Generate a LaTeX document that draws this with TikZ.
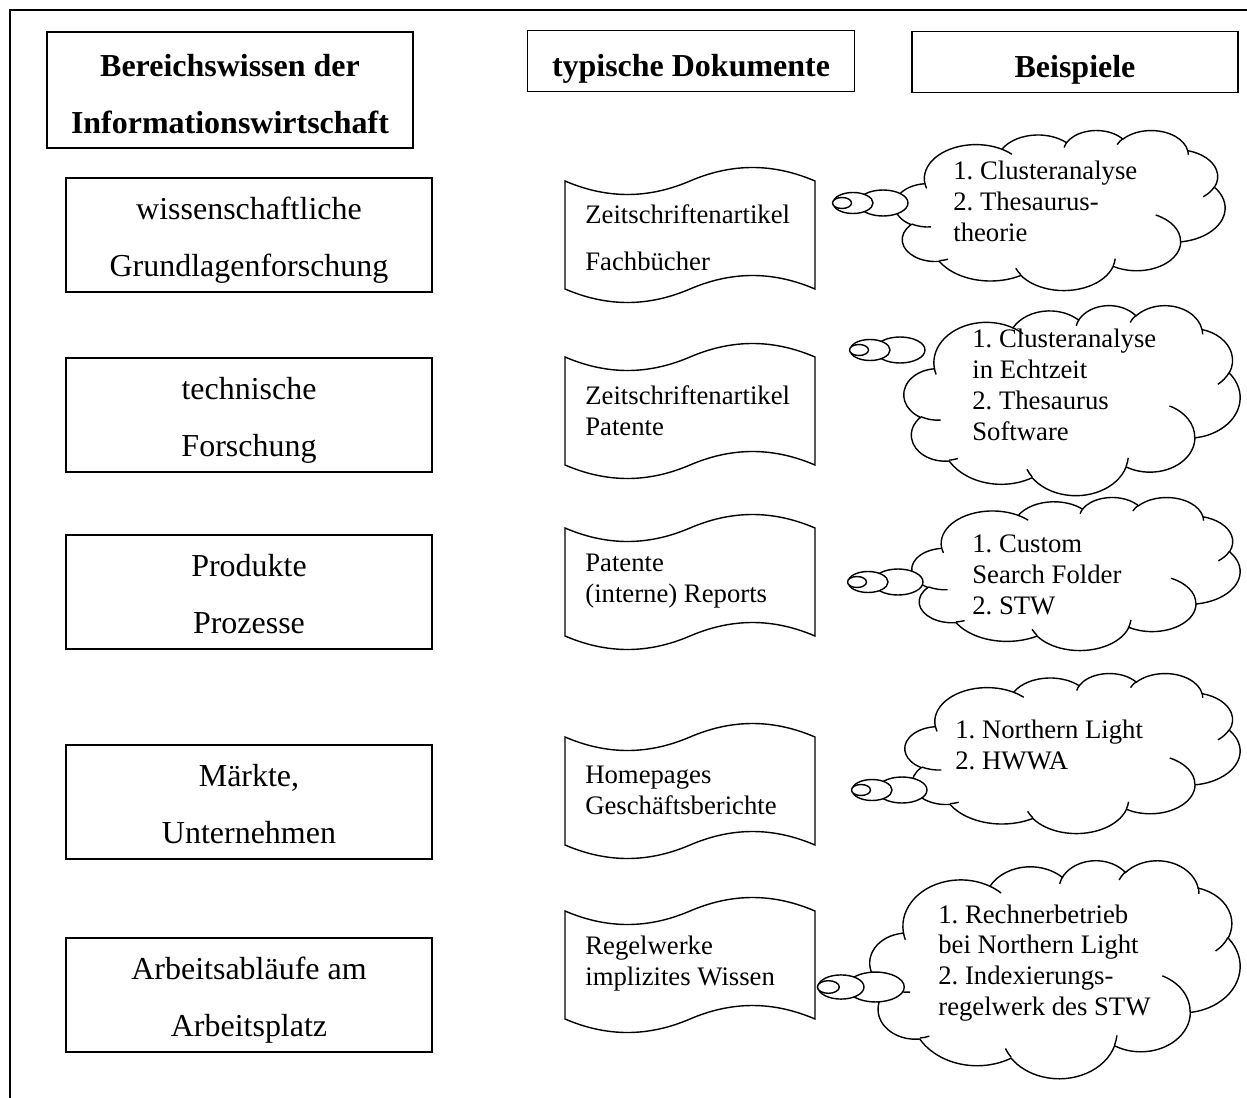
\documentclass[tikz,border=0pt]{standalone}
\usepackage{fontspec}
\setmainfont{Liberation Serif}
\frenchspacing

% Lochstreifen um den Mittelpunkt (#1,#2)
\newcommand{\band}[2]{%
  \draw[band] ({#1-125},{#2-54}) .. controls ({#1-83},{#2-36}) and ({#1-42},{#2-36}) .. ({#1},{#2-54})
    .. controls ({#1+42},{#2-72}) and ({#1+83},{#2-72}) .. ({#1+125},{#2-54})
    -- ({#1+125},{#2+54})
    .. controls ({#1+83},{#2+36}) and ({#1+42},{#2+36}) .. ({#1},{#2+54})
    .. controls ({#1-42},{#2+72}) and ({#1-83},{#2+72}) .. ({#1-125},{#2+54}) -- cycle;}

% Wolke in der Box links #1, oben #2, Breite #3, Hoehe #4
\newcommand{\wolke}[4]{%
  \draw[wolke] ({#1+0.090278*#3},{#2+0.332639*#4})
    \foreach \wa/\wb/\ws/\wd in {0.156319/0.212731/-190.4875/123.7805,
        0.123449/0.168218/-144.1024/89.9452, 0.101042/0.137616/-145.8079/99.7230,
        0.112431/0.152662/-130.9861/117.2417, 0.123449/0.168356/-78.7089/109.0269,
        0.156829/0.213426/-46.2673/130.2690, 0.133912/0.182106/0.6250/114.0333,
        0.156296/0.213310/22.4516/115.1726, 0.178704/0.244051/66.2426/75.7110,
        0.100926/0.136991/-274.9421/146.7356, 0.100579/0.137616/-246.8285/152.5189}
    {arc[x radius={\wa*#3*0.02cm}, y radius={\wb*#4*0.02cm},
         start angle={-atan2(\wa*sin(\ws),\wb*cos(\ws))},
         delta angle={-mod(atan2(\wa*sin(\ws+\wd),\wb*cos(\ws+\wd))-atan2(\wa*sin(\ws),\wb*cos(\ws))+720,360)}]}
    -- cycle;
  \foreach \wx/\wy/\wa/\wb/\ws/\wd in {0.108634/0.605949/0.100579/0.137616/86.7420/26.4295,
      0.160370/0.807847/0.100926/0.136991/73.6105/11.4475,
      0.381435/0.904861/0.156296/0.213310/137.6242/14.0811,
      0.667292/0.804421/0.156296/0.213310/6.4533/15.9984,
      0.790023/0.531343/0.133912/0.182106/-70.2924/70.9174,
      0.967546/0.355417/0.123449/0.168356/30.3180/27.7515,
      0.887130/0.125602/0.112431/0.152662/-13.7443/14.8589,
      0.673102/0.091481/0.112431/0.152662/-149.1815/18.1954,
      0.512523/0.109259/0.101042/0.137616/-163.4943/17.6864,
      0.324074/0.120185/0.156319/0.212731/-66.7070/12.3194,
      0.095532/0.365486/0.156319/0.212731/157.6544/11.8582}
    \draw[wolke linie] ({#1+\wx*#3},{#2+\wy*#4})
      arc[x radius={\wa*#3*0.02cm}, y radius={\wb*#4*0.02cm},
          start angle={-atan2(\wa*sin(\ws),\wb*cos(\ws))},
          delta angle={-mod(atan2(\wa*sin(\ws+\wd),\wb*cos(\ws+\wd))-atan2(\wa*sin(\ws),\wb*cos(\ws))+720,360)}];
}

% Denkblasen: Spitze bei (#1,#2), Groesse #3
\newcommand{\blasen}[3]{%
  \draw[wolke] ({#1+50*#3},#2) ellipse [x radius={25*#3}, y radius={13*#3}];
  \draw[wolke] ({#1+20*#3},#2) ellipse [x radius={20*#3}, y radius={10.5*#3}];
  \draw[wolke] ({#1+9*#3},#2) ellipse [x radius={9.5*#3}, y radius={5.5*#3}];}

\begin{document}
\begin{tikzpicture}[x=0.02cm, y=-0.02cm,
    kopf/.style={draw, line width=1pt, align=center, inner sep=0pt,
      font=\bfseries\fontsize{18.2}{32.4}\selectfont},
    bereich/.style={draw, line width=1pt, align=center, inner sep=0pt,
      minimum width=7.32cm, minimum height=2.28cm, font=\fontsize{18.2}{32.4}\selectfont,
      text height=51pt, text depth=4pt},
    doktext/.style={anchor=west, align=left, inner sep=0pt, font=\fontsize{15.2}{17.6}\selectfont},
    band/.style={draw, line width=0.8pt, fill=white},
    wolke/.style={draw, line width=0.8pt, fill=white},
    wolke linie/.style={draw, line width=0.8pt}]
	\useasboundingbox (0,0) rectangle (1247,1098);
	\draw[line width=1.3pt] (10,1110) -- (10,10) -- (1260,10);

	% Kopfzeile
	\node[kopf, minimum width=7.32cm, minimum height=2.32cm, text height=49pt, text depth=0pt]
	  (kopf1) at (230,90) {Bereichswissen der\\Informationswirtschaft};
	\node[kopf, minimum width=6.54cm, minimum height=1.22cm, text height=19.7pt, text depth=1.6pt] (kopf2) at (691,61) {typische Dokumente};
	\node[kopf, minimum width=6.52cm, minimum height=1.22cm, text height=19.7pt, text depth=1.6pt] (kopf3) at (1075,62) {Beispiele};

	% Bereiche
	\node[bereich] (wiss) at (249,235) {wissenschaftliche\\Grundlagenforschung};
	\node[bereich] (tech) at (249,415) {technische\\Forschung};
	\node[bereich] (prod) at (249,592) {Produkte\\Prozesse};
	\node[bereich] (markt) at (249,802) {Märkte,\\Unternehmen};
	\node[bereich] (arbeit) at (249,995) {Arbeitsabläufe am\\Arbeitsplatz};

	% Dokumente
	\band{690}{235}
	\node[doktext, font=\fontsize{15.2}{26.7}\selectfont] (dok1) at (585,238) {Zeitschriftenartikel\\Fachbücher};
	\band{690}{411}
	\node[doktext] (dok2) at (585,411) {Zeitschriftenartikel\\Patente};
	\band{690}{582}
	\node[doktext] (dok3) at (585,581) {Patente\\(interne) Reports};
	\band{690}{791}
	\node[doktext] (dok4) at (585,790) {Homepages\\Geschäftsberichte};
	\band{690}{965}
	\node[doktext] (dok5) at (585,964) {Regelwerke\\implizites Wissen};

	% Beispiele
	\wolke{895}{130}{330}{160}
	\blasen{833}{203}{1}
	\node[doktext] (bsp1) at (953,201) {1. Clusteranalyse\\2. Thesaurus-\\theorie};
	\wolke{904}{305}{336}{190}
	\blasen{850}{350}{1}
	\node[doktext] (bsp2) at (972,385) {1. Clusteranalyse\\in Echtzeit\\2. Thesaurus\\Software};
	\wolke{912}{497}{328}{153}
	\blasen{848}{582}{1}
	\node[doktext] (bsp3) at (972,575) {1. Custom\\Search Folder\\2. STW};
	\wolke{905}{673}{335}{160}
	\blasen{852}{790}{1}
	\node[doktext] (bsp4) at (955,745) {1. Northern Light\\2. HWWA};
	\wolke{870}{860}{370}{218}
	\blasen{818}{987}{1.15}
	\node[doktext] (bsp5) at (938,963) {1. Rechnerbetrieb\\bei Northern Light\\2. Indexierungs-\\regelwerk des STW};
\end{tikzpicture}
\end{document}
